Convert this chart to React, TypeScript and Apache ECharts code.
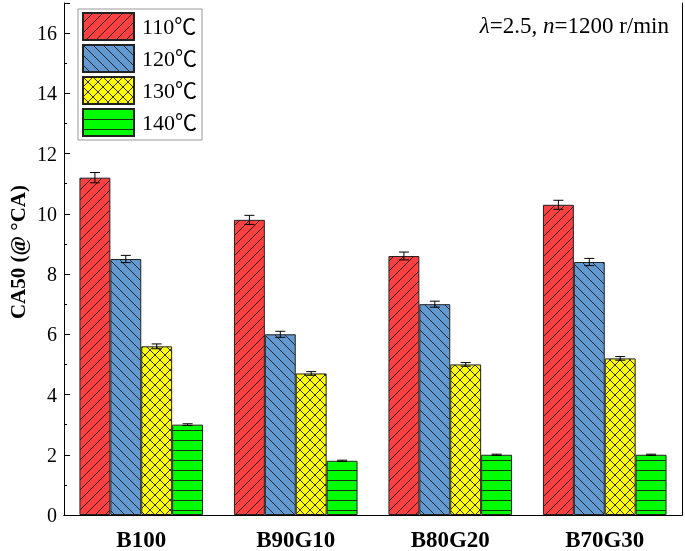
import React, { useEffect, useRef } from "react";
import * as echarts from "echarts";

const categories = ["B100", "B90G10", "B80G20", "B70G30"];
const seriesNames = ["110℃", "120℃", "130℃", "140℃"];
const t110 = [11.2, 9.8, 8.6, 10.3];
const t120 = [8.5, 6.0, 7.0, 8.4];
const t130 = [5.6, 4.7, 5.0, 5.2];
const t140 = [3.0, 1.8, 2.0, 2.0];
const e110 = [0.17, 0.15, 0.13, 0.15];
const e120 = [0.12, 0.1, 0.1, 0.12];
const e130 = [0.08, 0.06, 0.06, 0.06];
const e140 = [0.03, 0.02, 0.02, 0.02];

const FONT = '"Liberation Serif", "Times New Roman", "Noto Sans CJK SC", serif';

function makePattern(bg: string, kind: string) {
  const s = 10;
  const c = document.createElement("canvas");
  c.width = s;
  c.height = s;
  const ctx = c.getContext("2d")!;
  ctx.fillStyle = bg;
  ctx.fillRect(0, 0, s, s);
  ctx.strokeStyle = "#1a1a1a";
  ctx.lineWidth = 0.9;
  const line = (x1: number, y1: number, x2: number, y2: number) => {
    ctx.beginPath();
    ctx.moveTo(x1, y1);
    ctx.lineTo(x2, y2);
    ctx.stroke();
  };
  const fwd = () => {
    line(-5, s + 5, s + 5, -5);
    line(-5, 5, 5, -5);
    line(5, s + 5, s + 5, 5);
  };
  const back = () => {
    line(-5, -5, s + 5, s + 5);
    line(-5, 5, 5, s + 5);
    line(5, -5, s + 5, 5);
  };
  if (kind === "fwd") fwd();
  if (kind === "back") back();
  if (kind === "cross") {
    fwd();
    back();
  }
  if (kind === "horiz") {
    line(0, 0.5, s, 0.5);
  }
  return {
    image: c,
    repeat: "repeat",
    imageWidth: s,
    imageHeight: s,
  } as any;
}

export default function App() {
  const ref = useRef<HTMLDivElement>(null);
  useEffect(() => {
    document.body.style.margin = "0";
    const chart = echarts.init(ref.current!, null, { renderer: "svg" });
    const values = [t110, t120, t130, t140];
    const errs = [e110, e120, e130, e140];
    const patterns = [
      makePattern("#ff4040", "fwd"),
      makePattern("#6199d0", "back"),
      makePattern("#ffff00", "cross"),
      makePattern("#00ff00", "horiz"),
    ];
    const bars = values.map((vals, i) => ({
      name: seriesNames[i],
      type: "bar",
      data: vals,
      barGap: "0%",
      barCategoryGap: "20%",
      itemStyle: { color: patterns[i], borderColor: "#222", borderWidth: 1 },
    }));
    const errSeries = values.map((vals, i) => ({
      name: "err" + i,
      type: "custom",
      data: vals.map((v, j) => [j, v, errs[i][j]]),
      z: 5,
      renderItem: (params: any, api: any) => {
        const ci = api.value(0);
        const v = api.value(1);
        const e = api.value(2);
        const band = api.size([1, 0])[0];
        const bw = band * 0.2;
        const base = api.coord([ci, v]);
        const cx = base[0] + (i - 1.5) * bw;
        const top = api.coord([ci, v + e])[1];
        const bot = api.coord([ci, v - e])[1];
        const st = { stroke: "#000", lineWidth: 1 };
        const hw = 5;
        return {
          type: "group",
          children: [
            { type: "line", shape: { x1: cx, y1: top, x2: cx, y2: bot }, style: st },
            { type: "line", shape: { x1: cx - hw, y1: top, x2: cx + hw, y2: top }, style: st },
            { type: "line", shape: { x1: cx - hw, y1: bot, x2: cx + hw, y2: bot }, style: st },
          ],
        };
      },
    }));
    const frameAxis = {
      axisLine: { show: true, lineStyle: { color: "#000", width: 1 } },
      axisTick: { show: false },
      axisLabel: { show: false },
      splitLine: { show: false },
    };
    chart.setOption({
      animation: false,
      grid: {
        left: 64,
        right: 3,
        top: 3,
        bottom: 34,
      },
      legend: {
        data: seriesNames.map((n) => ({ name: n, icon: "rect" })),
        orient: "vertical",
        left: 78,
        top: 9,
        itemWidth: 51,
        itemHeight: 27,
        itemGap: 3,
        padding: [3, 5, 3, 4],
        borderColor: "#999",
        borderWidth: 1,
        selectedMode: false,
        textStyle: { fontFamily: FONT, fontSize: 22, color: "#000", padding: [0, 0, 0, 3] },
      },
      xAxis: [
        {
          type: "category",
          data: categories,
          axisLine: { lineStyle: { color: "#000", width: 1 } },
          axisTick: { show: false },
          axisLabel: {
            fontFamily: FONT,
            fontSize: 23,
            fontWeight: "bold",
            color: "#000",
            margin: 13,
          },
        },
        { type: "category", data: categories, position: "top", ...frameAxis },
      ],
      yAxis: [
        {
          type: "value",
          min: 0,
          max: 17,
          interval: 2,
          axisLine: { show: true, lineStyle: { color: "#000", width: 1 } },
          axisTick: { show: true, inside: true, length: 6, lineStyle: { color: "#000" } },
          minorTick: { show: true, splitNumber: 2, length: 3, lineStyle: { color: "#000" } },
          splitLine: { show: false },
          axisLabel: {
            fontFamily: FONT,
            fontSize: 20,
            color: "#000",
            margin: 7,
            showMaxLabel: false,
          },
        },
        { type: "value", min: 0, max: 17, interval: 2, position: "right", ...frameAxis },
      ],
      graphic: [
        {
          type: "text",
          right: 16,
          top: 14,
          style: {
            text: "{i|λ}=2.5, {i|n}=1200 r/min",
            fontFamily: FONT,
            fontSize: 23,
            fill: "#000",
            rich: {
              i: { fontFamily: FONT, fontSize: 23, fontStyle: "italic", fill: "#000" },
            },
          },
        },
        {
          type: "text",
          x: 18,
          y: 252,
          rotation: Math.PI / 2,
          style: {
            text: "CA50 (@ °CA)",
            fontFamily: FONT,
            fontSize: 21,
            fontWeight: "bold",
            fill: "#000",
            align: "center",
            verticalAlign: "middle",
          },
        },
      ],
      series: [...bars, ...errSeries],
    });
    return () => chart.dispose();
  }, []);
  return (
    <div
      ref={ref}
      style={{ position: "fixed", left: 0, top: 0, width: 685, height: 551 }}
    />
  );
}
